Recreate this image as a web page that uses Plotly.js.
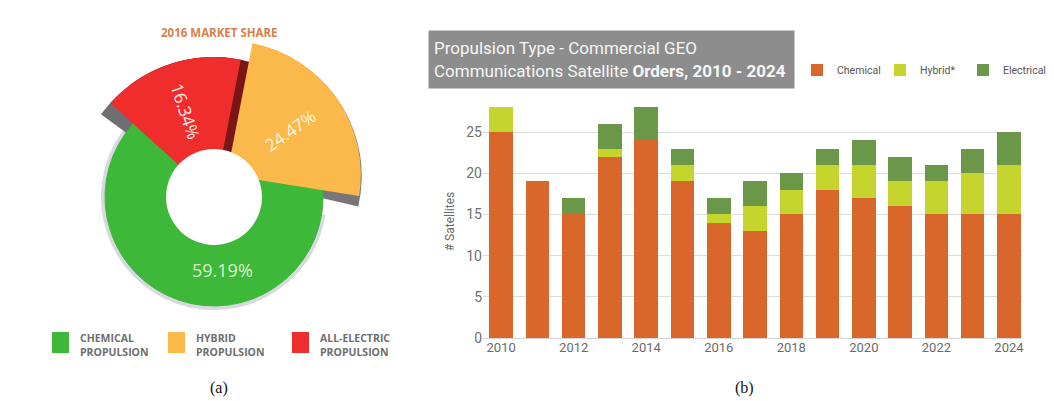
<!DOCTYPE html>
<html><head><meta charset="utf-8">
<script src="https://cdn.plot.ly/plotly-3.0.1.min.js"></script>
<style>html,body{margin:0;padding:0;background:#fff}#chart{width:1054px;height:401px}</style>
</head><body><div id="chart"></div>
<script>
// ---- data: bar chart (b)
const years = [2010,2011,2012,2013,2014,2015,2016,2017,2018,2019,2020,2021,2022,2023,2024];
const chemical   = [25,19,15,22,24,19,14,13,15,18,17,16,15,15,15];
const hybrid     = [3, 0, 0, 1, 0, 2, 1, 3, 3, 3, 4, 3, 4, 5, 6];
const electrical = [0, 0, 2, 3, 4, 2, 2, 3, 2, 2, 3, 3, 2, 3, 4];
const seriesNames = ['Chemical','Hybrid*','Electrical'];
const xTickYears = [2010,2012,2014,2016,2018,2020,2022,2024];
const yTicks = [0,5,10,15,20,25];
const barTitle = 'Propulsion Type - Commercial GEO<br>Communications Satellite <b>Orders, 2010 - 2024</b>';
const yTitle = '# Satellites';

// ---- data: 2016 market share donut (a)
const pieTitle = '2016 MARKET SHARE';
const shareLabels = ['HYBRID PROPULSION','CHEMICAL PROPULSION','ALL-ELECTRIC PROPULSION'];
const shareValues = [24.47, 59.19, 16.34];
const panelLabels = ['(a)','(b)'];

// ---- styling
const W = 1054, H = 401;
const NARROW = "Roboto, 'Liberation Sans', sans-serif";
const C_CHEM = '#d9662a', C_HYB = '#c6d52e', C_ELEC = '#6a9848';
const P_GREEN = '#3db838', P_ORANGE = '#fbb94b', P_RED = '#ef2d2d';
const TR = 'rgba(0,0,0,0)';
const px = v => v / W, py = v => 1 - v / H;
function dom(cx, cy, size){ return {x:[px(cx-size/2), px(cx+size/2)], y:[py(cy+size/2), py(cy-size/2)]}; }

function pie(o){
  return {
    type:'pie', labels:shareLabels, values:shareValues, sort:false, direction:'clockwise',
    rotation:o.rot, hole:o.hole, domain:o.domain, pull:o.pull || 0,
    marker:{colors:o.colors, line:{width:o.lw || 0, color:o.lc || TR}},
    texttemplate:o.text || ['','',''], textposition:'inside',
    insidetextorientation:o.orient || 'radial',
    insidetextfont:{family:'Open Sans', size:17, color:o.tcolor || '#fff'},
    hoverinfo:'none', showlegend:false
  };
}
const PC = [214,197];   // donut centre (px)
const HOLE_R = 48;      // donut hole radius (px)
const OC = [208,188];
const pieTraces = [
  pie({rot:11, hole:0.4,  domain:dom(PC[0],PC[1],226), colors:[TR,'#d8d8e0',TR]}),
  pie({rot:5,  hole:0.3,  domain:dom(PC[0],PC[1],280), colors:[TR,TR,'#6f6f73']}),
  pie({rot:15, hole:0.1,  domain:dom(OC[0],OC[1],314), pull:[0.172,0,0], colors:['#77777b',TR,TR]}),
  pie({rot:11, hole:0.4,  domain:dom(PC[0],PC[1],218), colors:[P_GREEN,P_GREEN,TR], lw:1, lc:[P_GREEN,P_GREEN,TR]}),
  pie({rot:22, hole:0.3,  domain:dom(PC[0],PC[1],280), colors:[TR,TR,'#7a1616']}),
  pie({rot:11, hole:0.3,  domain:dom(PC[0],PC[1],280), colors:[TR,TR,P_RED], text:['','','%{value:.2f}%'], tcolor:'#fff0f0'}),
  pie({rot:11, hole:0.1,  domain:dom(OC[0],OC[1],314), pull:[0.172,0,0], colors:[P_ORANGE,TR,TR], text:['%{value:.2f}%','',''], tcolor:'#fff6e0'})
];

const barTraces = [
  {type:'bar', x:years, y:chemical,   name:seriesNames[0], marker:{color:C_CHEM}, hoverinfo:'none'},
  {type:'bar', x:years, y:hybrid,     name:seriesNames[1], marker:{color:C_HYB},  hoverinfo:'none'},
  {type:'bar', x:years, y:electrical, name:seriesNames[2], marker:{color:C_ELEC}, hoverinfo:'none'}
];

// donut legend (swatches + labels), donut hole and texts
const pieLegendColors = [P_GREEN, P_ORANGE, P_RED];
const pieLegendOrder = [1, 0, 2];
const swX = [52, 168, 292];
const shapes = [{type:'circle', xref:'paper', yref:'paper', layer:'above',
  x0:px(PC[0]-HOLE_R), x1:px(PC[0]+HOLE_R), y0:py(PC[1]+HOLE_R), y1:py(PC[1]-HOLE_R),
  fillcolor:'#ffffff', line:{width:0}}];
const annotations = [];
pieLegendOrder.forEach((k, i) => {
  shapes.push({type:'rect', xref:'paper', yref:'paper', x0:px(swX[i]), x1:px(swX[i]+17), y0:py(353), y1:py(332),
               fillcolor:pieLegendColors[i], line:{width:0}});
  annotations.push({xref:'paper', yref:'paper', x:px(swX[i]+26), y:py(345), xanchor:'left', yanchor:'middle',
    text:'<b>'+shareLabels[k].replace(' ','<br>')+'</b>', showarrow:false, align:'left',
    font:{family:'Open Sans', size:10.5, color:'#6e6e6e'}});
});
annotations.push({xref:'paper', yref:'paper', x:px(222), y:py(270), xanchor:'center', yanchor:'middle', showarrow:false,
  text:shareValues[1].toFixed(2)+'%', font:{family:'Open Sans', size:18, color:'#d9f2cf'}});
annotations.push({xref:'paper', yref:'paper', x:px(219), y:py(32), xanchor:'center', yanchor:'middle', showarrow:false,
  text:'<b>'+pieTitle+'</b>', font:{family:'Open Sans', size:11.5, color:'#d9804a'}});
annotations.push({xref:'paper', yref:'paper', x:px(428), y:py(30), xanchor:'left', yanchor:'top', showarrow:false,
  text:barTitle, align:'left', width:355, height:47, borderpad:5, bgcolor:'#8d8d8d',
  font:{family:NARROW, size:17, color:'#f6f6f6'}});
annotations.push({xref:'paper', yref:'paper', x:px(219), y:py(388), xanchor:'center', yanchor:'middle', showarrow:false,
  text:panelLabels[0], font:{family:'Liberation Serif', size:16, color:'#111'}});
annotations.push({xref:'paper', yref:'paper', x:px(744), y:py(388), xanchor:'center', yanchor:'middle', showarrow:false,
  text:panelLabels[1], font:{family:'Liberation Serif', size:16, color:'#111'}});

const layout = {
  width:W, height:H, margin:{l:0,r:0,t:0,b:0}, paper_bgcolor:'#fff', plot_bgcolor:'rgba(0,0,0,0)',
  barmode:'stack', bargap:0.35, showlegend:true,
  xaxis:{domain:[px(483), px(1022)], range:[2009.5, 2024.36], tickmode:'array', tickvals:xTickYears,
         ticktext:xTickYears.map(String), showgrid:false, zeroline:false, showline:false, ticks:'',
         tickfont:{family:NARROW, size:13, color:'#6a6a6a'}, fixedrange:true},
  yaxis:{domain:[py(338), py(105)], range:[0, 28.28], tickmode:'array', tickvals:yTicks,
         showgrid:true, gridcolor:'#dcdcdc', zeroline:true, zerolinecolor:'#d4d4d4', ticks:'',
         tickfont:{family:NARROW, size:14, color:'#707070'}, fixedrange:true,
         title:{text:yTitle, standoff:9, font:{family:NARROW, size:12, color:'#6a6a6a'}}},
  legend:{orientation:'h', x:px(797), y:py(70), xanchor:'left', yanchor:'middle', bgcolor:TR,
          entrywidth:38, entrywidthmode:'pixels',
          font:{family:NARROW, size:10.5, color:'#555'}, itemclick:false, traceorder:'normal'},
  shapes:shapes, annotations:annotations
};

Plotly.newPlot('chart', pieTraces.concat(barTraces), layout, {staticPlot:true, displayModeBar:false});
</script></body></html>
